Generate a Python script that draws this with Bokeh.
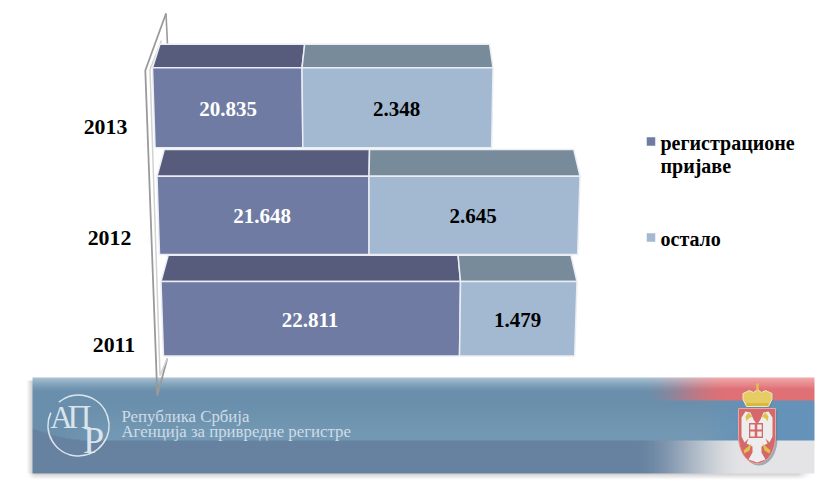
import numpy as np
from bokeh.plotting import figure
from bokeh.models import Range1d
from bokeh.core.properties import value
from bokeh.embed import file_html
from bokeh.resources import INLINE

# ---- data -----------------------------------------------------------------
years = ["2011", "2012", "2013"]
reg_labels = ["22.811", "21.648", "20.835"]
other_labels = ["1.479", "2.645", "2.348"]
# drawn lengths of the segments (the picture's bars are not proportional to their labels)
reg_drawn = [299.5, 212.0, 149.5]
other_drawn = [116.5, 211.0, 191.0]
series_names = ["регистрационе\nпријаве", "остало"]

# ---- layout ---------------------------------------------------------------
SERIF = value("Liberation Serif")
REG_FRONT, REG_TOP = "#6F7BA2", "#575C7C"
OTH_FRONT, OTH_TOP = "#A2B9D1", "#788B9A"
EDGE = "#EAEDF3"
base_x = [160.5, 156.5, 152.0]
front_top = [281.0, 175.7, 67.3]
front_bot = [355.5, 254.0, 147.3]
back_top = [254.7, 149.0, 43.7]
year_x = [113.5, 109.0, 105.0]
year_y = [344.0, 237.0, 126.5]
label_y = [319.0, 215.7, 108.3]
reg_label_x = [309.5, 261.7, 227.5]
oth_label_x = [517.0, 472.7, 396.0]


def Y(s):
    return 485 - np.asarray(s, dtype=float)


def back(x):
    return x - 0.032 * (x - 385)


def bottom(x):
    return x - 0.0115 * (x - 375)


p = figure(width=821, height=485, output_backend="svg", toolbar_location=None,
           x_range=Range1d(0, 821), y_range=Range1d(0, 485), min_border=0,
           outline_line_color=None, background_fill_color="white", border_fill_color="white")
p.axis.visible = False
p.grid.visible = False


# ---- banner ---------------------------------------------------------------
def sstep(a, b, v):
    t = np.clip((v - a) / (b - a), 0, 1)
    return t * t * (3 - 2 * t)


ix0, ix1, iy0, iy1 = 24, 821, 377, 481
xx, yy = np.meshgrid(np.arange(ix0, ix1) + .5, np.arange(iy0, iy1) + .5)
rgb = np.zeros(xx.shape + (3,))
mid = np.array([106., 143., 172.])
rgb[:] = mid
swoosh = 1 - np.clip((xx - 32) / 60, 0, 1)
mid_light = sstep(395, 440, yy) * sstep(40, 120, xx)
rgb += mid_light[..., None] * np.array([10., 10., 8.])
low = yy > 440 - 12 * swoosh ** 2
rgb[low] = np.array([102., 130., 160.])
hl = (1 - np.clip((yy - 377) / 15, 0, 1)) ** 1.5
rgb += hl[..., None] * (np.array([172., 196., 214.]) - mid)
# flag stripes
wr = sstep(640, 728, xx)[..., None]
red = np.array([223., 112., 118.]) + (1 - np.clip((yy[..., None] - 377) / 12, 0, 1)) * np.array([18., 60., 55.])
wb = sstep(690, 760, xx)[..., None]
wl = sstep(632, 745, xx)[..., None]
top_mask = (yy < 400)[..., None]
mid_mask = ((yy >= 400) & (yy < 440))[..., None]
low_mask = (yy >= 440)[..., None]
rgb = np.where(top_mask, rgb * (1 - wr) + red * wr, rgb)
rgb = np.where(mid_mask, rgb * (1 - wb) + np.array([100., 146., 184.]) * wb, rgb)
rgb = np.where(low_mask, rgb * (1 - wl) + np.array([228., 228., 230.]) * wl, rgb)
inside = (xx >= 32) & (xx < 814) & (yy >= 377) & (yy < 473)
alpha = np.where(inside, 255., 0.)
shade = (np.clip(1 - (yy - 473) / 6, 0, 1) * sstep(26, 36, xx) * (1 - sstep(795, 812, xx)) * (yy >= 473)
         + np.clip(1 - (32 - xx) / 6, 0, 1) * (xx < 32) * (yy > 380) * (yy < 473))
rgb[~inside] = np.array([150., 150., 150.])
alpha[~inside] = (shade[~inside] * 120)
arr = np.zeros(xx.shape, dtype=np.uint32)
view = arr.view(dtype=np.uint8).reshape(xx.shape + (4,))
view[..., 0] = np.clip(rgb[..., 0], 0, 255)
view[..., 1] = np.clip(rgb[..., 1], 0, 255)
view[..., 2] = np.clip(rgb[..., 2], 0, 255)
view[..., 3] = alpha
p.image_rgba(image=[arr[::-1]], x=ix0, y=float(Y(iy1)), dw=ix1 - ix0, dh=iy1 - iy0)

# ---- wall -----------------------------------------------------------------
p.line([165.5, 144.8, 156.8, 166.8], Y([13, 70, 395, 358]), line_color="#9A9A9A", line_width=1.8)
p.line([165.5, 167.0], Y([13, 44]), line_color="#9A9A9A", line_width=1.6)
p.line([161.0, 149.5, 159.5, 166.8], Y([40, 69, 375, 358]), line_color="#D2D2D2", line_width=1.5)

# ---- bars -----------------------------------------------------------------
for i in range(3):
    x0 = base_x[i]
    x1 = x0 + reg_drawn[i]
    x2 = x1 + other_drawn[i]
    ft, fb, bt = front_top[i], front_bot[i], back_top[i]
    for a, b, fc, tc in ((x0, x1, REG_FRONT, REG_TOP), (x1, x2, OTH_FRONT, OTH_TOP)):
        p.patch([back(a), back(b), b, a], Y([bt, bt, ft, ft]), fill_color=tc,
                line_color=EDGE, line_width=1.5)
        p.patch([a, b, bottom(b), bottom(a)], Y([ft, ft, fb, fb]), fill_color=fc,
                line_color=EDGE, line_width=1.5)

# ---- value labels and years ----------------------------------------------
p.text(reg_label_x, Y(label_y), text=reg_labels, text_color="white", text_font=SERIF,
       text_font_style="bold", text_font_size="21px", text_align="center", text_baseline="middle")
p.text(oth_label_x, Y(label_y), text=other_labels, text_color="black", text_font=SERIF,
       text_font_style="bold", text_font_size="21px", text_align="center", text_baseline="middle")
p.text(year_x, Y(year_y), text=years, text_color="black", text_font=SERIF,
       text_font_style="bold", text_font_size="21.8px", text_align="center", text_baseline="middle")

# ---- legend ---------------------------------------------------------------
p.rect([650.5, 650.5], Y([141, 237]), width=8.5, height=8.5, fill_color=[REG_FRONT, OTH_FRONT], line_color=None)
p.text([660, 660, 660], Y([142, 165, 238]),
       text=series_names[0].split("\n") + [series_names[1]], text_color="black", text_font=SERIF,
       text_font_style="bold", text_font_size="20px", text_align="left", text_baseline="middle")

# ---- banner logo and text -------------------------------------------------
LOGO = "#DCE4EB"
p.arc([78], Y([425]), radius=30.5, start_angle=np.radians(-205), end_angle=np.radians(130),
      line_color=LOGO, line_width=1.6)
p.text([61], Y([417]), text=["А"], text_color=LOGO, text_font=SERIF, text_font_size="31px",
       text_align="center", text_baseline="middle")
p.text([79], Y([416]), text=["П"], text_color=LOGO, text_font=SERIF, text_font_size="33px",
       text_align="center", text_baseline="middle")
p.text([82.5], Y([439]), text=["Р"], text_color=LOGO, text_font=SERIF,
       text_font_size="38px", text_align="left", text_baseline="middle")
p.text([121, 121], Y([415.5, 431]), text=["Република Србија", "Агенција за привредне регистре"],
       text_color="#CFDCE7", text_font=SERIF, text_font_size="16.8px",
       text_align="left", text_baseline="middle")

# ---- crest ----------------------------------------------------------------
t = np.linspace(0, np.pi, 40)
shield_x = [738, 738] + list(756.5 - 18.5 * np.cos(t)) + [775, 775]
shield_y = [408, 436] + list(436 + 27 * np.sin(t)) + [436, 408]
p.patch(np.array(shield_x) + 2, Y(np.array(shield_y) + 2), fill_color="#5F7C92", fill_alpha=.55, line_color=None)
p.patch(shield_x, Y(shield_y), fill_color="#D5686A", line_color="#E8A7A2", line_width=1)
# eagle
p.patch([741, 745, 750, 753, 756.5, 760, 763, 768, 772, 772, 769, 765, 767, 761, 761, 765, 756.5, 748, 752, 752, 746, 748, 744, 741],
        Y([417, 411, 412, 419, 424, 419, 412, 411, 417, 436, 442, 438, 443, 446, 452, 459, 462, 459, 452, 446, 443, 438, 442, 436]),
        fill_color="#EDEDED", line_color=None)
p.rect([755.5], Y([430]), width=14, height=15, fill_color="#D5686A", line_color=None)
p.rect([752, 759, 752, 759], Y([426.5, 426.5, 433.5, 433.5]), width=4.5, height=5, fill_color="#EDEDED", line_color=None)
p.patch([751, 743, 744, 749], Y([443, 450, 453, 450]), fill_color="#E2C148", line_color=None)
p.patch([762, 770, 769, 764], Y([443, 450, 453, 450]), fill_color="#E2C148", line_color=None)
p.patch([745, 748, 752, 748, 746], Y([416, 412, 416, 418, 421]), fill_color="#E2C148", line_color=None)
p.patch([768, 765, 761, 765, 767], Y([416, 412, 416, 418, 421]), fill_color="#E2C148", line_color=None)
# crown
crx = np.array([746, 742.5, 742.5, 749, 753, 757, 761, 765, 771.5, 771.5, 768, 767])
cry = np.array([406, 399, 393, 390, 392, 389, 392, 390, 393, 399, 406, 406])
p.patch(crx + 1.3, Y(cry + 1.3), fill_color="#5F7C92", fill_alpha=.5, line_color=None)
p.patch(crx, Y(cry), fill_color="#E6CD63", line_color="#F2E7C4", line_width=1)
p.rect([757], Y([386.5]), width=2.5, height=7, fill_color="#E2C148", line_color=None)
p.rect([757], Y([404]), width=22, height=3, fill_color="#D9B83F", line_color=None)

open("out.html", "w").write(file_html(p, INLINE))
